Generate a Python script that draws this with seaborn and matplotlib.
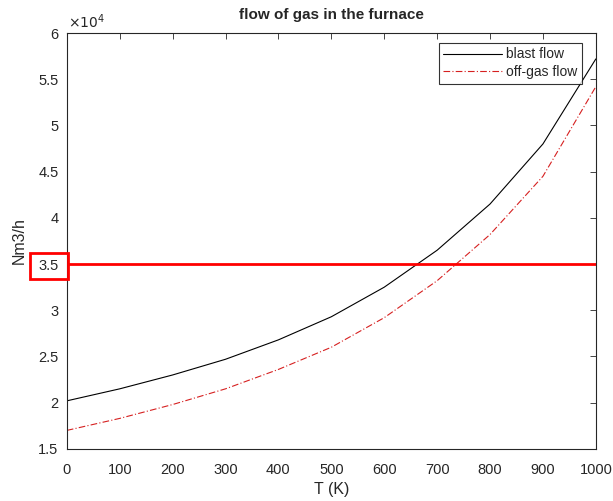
import numpy as np
import pandas as pd
import matplotlib
matplotlib.use("Agg")
import matplotlib.pyplot as plt
import matplotlib.patches as patches
import seaborn as sns

T = [0, 100, 200, 300, 400, 500, 600, 700, 800, 900, 1000]
blast_flow = [20200, 21500, 23000, 24700, 26800, 29300, 32500, 36500, 41500, 48000, 57200]
offgas_flow = [17000, 18300, 19800, 21500, 23600, 26000, 29200, 33200, 38200, 44500, 54200]
threshold = 35000
xticks = [0, 100, 200, 300, 400, 500, 600, 700, 800, 900, 1000]
yticks = [15000, 20000, 25000, 30000, 35000, 40000, 45000, 50000, 55000, 60000]
ytick_labels = ["1.5", "2", "2.5", "3", "3.5", "4", "4.5", "5", "5.5", "6"]

sns.set_theme(style="white")
plt.rcParams['font.family'] = ['Liberation Sans', 'DejaVu Sans']

fig = plt.figure(figsize=(6.13, 5.01), dpi=100)
ax = fig.add_axes([0.109, 0.104, 0.863, 0.830])

df = pd.DataFrame({"T": T, "blast flow": blast_flow, "off-gas flow": offgas_flow})
sns.lineplot(data=df, x="T", y="blast flow", ax=ax, color="black", linewidth=0.8, label="blast flow")
sns.lineplot(data=df, x="T", y="off-gas flow", ax=ax, color="#d62020", linewidth=0.8,
             linestyle=(0, (6, 2, 1, 2)), label="off-gas flow")
ax.axhline(threshold, color="#ff0000", linewidth=2)

ax.set_xlim(0, 1000)
ax.set_ylim(15000, 60000)
ax.set_xticks(xticks)
ax.set_xticklabels([str(t) for t in xticks], fontsize=10.5, color="#262626")
ax.set_yticks(yticks)
ax.set_yticklabels(ytick_labels, fontsize=10.5, color="#262626")
ax.tick_params(axis="x", direction="in", length=4, top=True, width=0.6, color="#262626", pad=10)
ax.tick_params(axis="y", direction="in", length=4, right=True, width=0.6, color="#262626", pad=6)
for s in ax.spines.values():
    s.set_color("#262626")
    s.set_linewidth(0.8)

ax.set_xlabel("T (K)", fontsize=11.5, color="#262626", labelpad=4)
ax.set_ylabel("Nm3/h", fontsize=11.5, color="#262626", labelpad=8)
ax.set_title("flow of gas in the furnace", fontsize=11, fontweight="bold", pad=10)
ax.text(0.003, 1.004, r"$\times10^4$", transform=ax.transAxes, fontsize=10, color="#262626",
        ha="left", va="bottom")

leg = ax.legend(loc="upper right", fontsize=10, frameon=True, fancybox=False,
                edgecolor="black", borderpad=0.35, handlelength=4.2, labelspacing=0.25,
                handletextpad=0.3, borderaxespad=0.0, bbox_to_anchor=(0.974, 0.977))
leg.get_frame().set_linewidth(0.8)

rect = patches.Rectangle((30 / 613, 1 - 279 / 501), 38 / 613, 26 / 501, transform=fig.transFigure,
                         fill=False, edgecolor="#ff0000", linewidth=2, clip_on=False)
fig.patches.append(rect)

fig.savefig("out.png", dpi=100)
